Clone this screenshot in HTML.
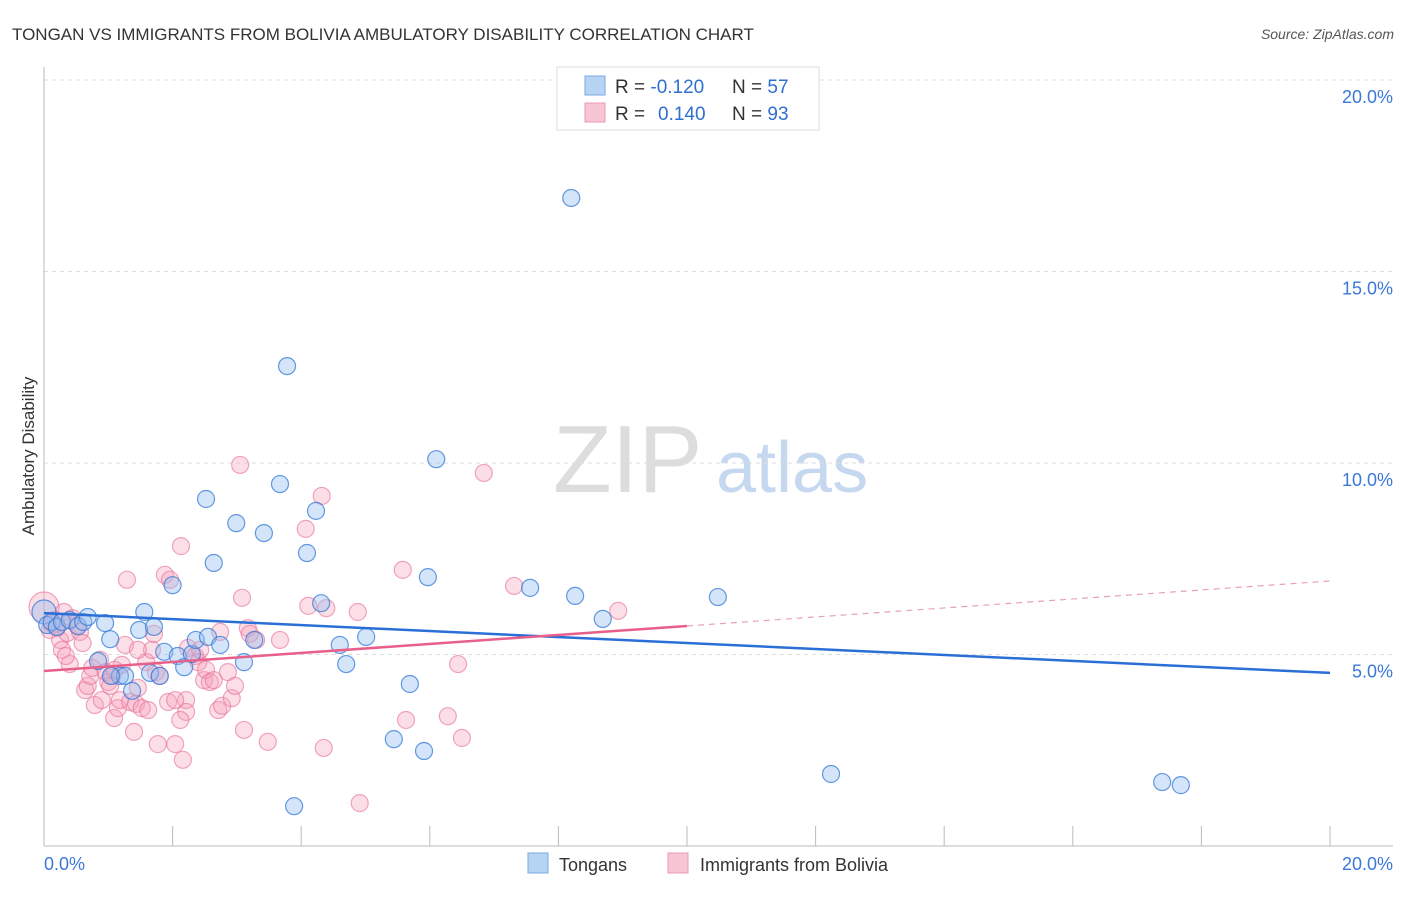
<!DOCTYPE html>
<html><head><meta charset="utf-8"><style>
body{margin:0;background:#fff;font-family:"Liberation Sans",sans-serif}
svg text{font-family:"Liberation Sans",sans-serif}
</style></head><body>
<svg id="chart" width="1406" height="892">
<text x="12" y="40" font-size="17" fill="#333">TONGAN VS IMMIGRANTS FROM BOLIVIA AMBULATORY DISABILITY CORRELATION CHART</text>
<text x="1394" y="39" font-size="14" fill="#555" font-style="italic" text-anchor="end">Source: ZipAtlas.com</text>
<text x="34" y="456" font-size="17" fill="#333" text-anchor="middle" transform="rotate(-90 34 456)">Ambulatory Disability</text>
<g>
<text x="553" y="492" font-size="96" font-family="Liberation Serif,serif" fill="#ddd">ZIP</text>
<text x="716" y="492" font-size="72" fill="#c5d8f0">atlas</text>
</g>
<g id="grid"></g><g id="axes"></g><g id="pts"></g><g id="trends"></g>
<g>
<rect x="557" y="67" width="262" height="63" fill="#fff" stroke="#ddd"/>
<rect x="585" y="76" width="20" height="19" fill="#b8d4f5" stroke="#7aa8e0"/>
<rect x="585" y="103" width="20" height="19" fill="#f8c5d4" stroke="#eb9ab2"/>
<text x="615" y="93" font-size="19" fill="#333">R = <tspan fill="#2f6fd0">-0.120</tspan></text>
<text x="732" y="93" font-size="19" fill="#333">N = <tspan fill="#2f6fd0">57</tspan></text>
<text x="615" y="120" font-size="19" fill="#333">R = <tspan fill="#2f6fd0" x="658">0.140</tspan></text>
<text x="732" y="120" font-size="19" fill="#333">N = <tspan fill="#2f6fd0">93</tspan></text>
</g>
<g>
<rect x="528" y="853" width="20" height="20" fill="#b8d4f5" stroke="#7aa8e0"/>
<text x="559" y="871" font-size="18" fill="#333">Tongans</text>
<rect x="668" y="853" width="20" height="20" fill="#f8c5d4" stroke="#eb9ab2"/>
<text x="700" y="871" font-size="18" fill="#333">Immigrants from Bolivia</text>
</g>
</svg>
<script>
const blueX=[0,.05,.12,.2,.28,.40,.53,.61,.68,.84,.95,1.03,1.18,1.26,1.37,1.48,1.56,1.65,1.71,1.80,1.87,2.0,2.08,2.18,2.30,2.36,2.52,2.55,2.64,2.74,2.99,3.11,3.27,3.42,3.67,3.78,3.89,4.09,4.23,4.31,4.60,4.70,5.01,5.44,5.69,5.91,5.97,6.10,7.56,8.20,8.26,8.69,10.48,12.24,17.39,17.68,1.04];
const blueY=[6.11,5.77,5.85,5.72,5.85,5.90,5.74,5.85,5.98,4.83,5.82,5.40,4.44,4.44,4.05,5.64,6.11,4.52,5.72,4.44,5.07,6.81,4.96,4.67,5.01,5.38,9.06,5.46,7.39,5.25,8.43,4.80,5.38,8.17,9.45,12.53,1.04,7.65,8.75,6.34,5.25,4.75,5.46,2.79,4.23,2.48,7.02,10.10,6.74,16.92,6.53,5.93,6.50,1.88,1.67,1.59,4.44];
const pinkX=[0,.09,.17,.25,.28,.36,.40,.44,.51,.56,.64,.68,.72,.75,.79,.87,.90,.96,1.0,1.03,1.09,1.15,1.18,1.21,1.26,1.29,1.34,1.40,1.43,1.46,1.52,1.59,1.62,1.68,1.71,1.74,1.77,1.80,1.88,1.93,1.96,2.04,2.13,2.16,2.21,2.21,2.24,2.35,2.40,2.49,2.52,2.58,2.64,2.71,2.74,2.77,2.86,2.92,3.05,3.08,3.11,3.17,3.20,3.30,3.48,3.67,4.07,4.11,4.32,4.35,4.39,4.88,4.91,5.58,5.63,6.28,6.44,6.50,6.84,7.31,8.93,.31,.34,1.06,2.12,2.43,2.97,1.46,2.04,.12,.6,.2,1.1];
const pinkY=[6.24,5.64,5.90,5.38,5.12,5.56,4.75,5.95,5.77,5.59,4.07,4.18,4.44,4.65,3.68,4.86,3.81,4.54,4.28,4.18,3.34,3.60,3.81,4.73,5.25,6.95,3.76,2.98,3.71,4.13,3.60,4.80,3.55,5.12,5.54,4.54,2.66,4.44,7.08,3.76,6.95,2.66,7.83,2.25,3.81,3.50,5.17,4.96,4.80,4.33,4.60,4.28,4.33,3.55,5.59,3.66,4.54,3.86,9.95,6.48,3.03,5.69,5.54,5.38,2.72,5.38,8.28,6.27,9.14,2.56,6.21,6.11,1.12,7.21,3.29,3.39,4.75,2.82,9.74,6.79,6.14,6.11,4.96,4.44,3.29,5.12,4.18,5.12,3.81,5.8,5.3,5.7,4.6];
const blueTrend=[6.08,4.52];
const pinkTrend=[4.57,6.92];
const pinkSolidEnd=10;
const yTicks=[5,10,15,20];
const yTickLabels=["5.0%","10.0%","15.0%","20.0%"];
const xTickCount=10;
const X=v=>44+v/20*1286, Y=v=>846-v/20*766;
const NS="http://www.w3.org/2000/svg";
function mk(t,a,p){const e=document.createElementNS(NS,t);for(const k in a)e.setAttribute(k,a[k]);p.appendChild(e);return e;}
const grid=document.getElementById('grid'),axes=document.getElementById('axes'),pts=document.getElementById('pts'),tr=document.getElementById('trends');
yTicks.forEach((v,i)=>{
 const l=mk('line',{x1:44,x2:1393,y1:Y(v),y2:Y(v),stroke:'#ddd','stroke-dasharray':'4,4'},grid);
 
 
 const t=mk('text',{x:1393,y:Y(v)+23,'font-size':18,fill:'#3b78d8','text-anchor':'end'},axes);t.textContent=yTickLabels[i];
 
 
});
const ya=mk('line',{x1:44,x2:44,y1:67,y2:846,stroke:'#bbb'},axes);


const xa=mk('line',{x1:44,x2:1393,y1:846,y2:846,stroke:'#bbb'},axes);


for(let i=0;i<=xTickCount;i++){const x=X(i*20/xTickCount);const t=mk('line',{x1:x,x2:x,y1:826,y2:846,stroke:'#bbb'},axes);
 
 }
const x0=mk('text',{x:44,y:870,'font-size':18,fill:'#3b78d8'},axes);x0.textContent='0.0%';


const x1=mk('text',{x:1393,y:870,'font-size':18,fill:'#3b78d8','text-anchor':'end'},axes);x1.textContent='20.0%';


pinkX.forEach((v,i)=>{const c=mk('circle',{cx:X(v),cy:Y(pinkY[i]),r:i==0?15:8.5,fill:'rgba(245,160,185,0.35)',stroke:'rgba(230,110,150,0.6)','stroke-width':1.2},pts);
 
 });
blueX.forEach((v,i)=>{const c=mk('circle',{cx:X(v),cy:Y(blueY[i]),r:i==0?12:8.5,fill:'rgba(150,190,240,0.4)',stroke:'rgba(50,120,215,0.75)','stroke-width':1.2},pts);
 
 });
const bt=mk('line',{x1:X(0),y1:Y(blueTrend[0]),x2:X(20),y2:Y(blueTrend[1]),stroke:'#2a6fd6','stroke-width':2.5},tr);


const pm=pinkTrend[0]+(pinkTrend[1]-pinkTrend[0])*pinkSolidEnd/20;
const ps=mk('line',{x1:X(0),y1:Y(pinkTrend[0]),x2:X(pinkSolidEnd),y2:Y(pm),stroke:'#e8608a','stroke-width':2.5},tr);


const pd=mk('line',{x1:X(pinkSolidEnd),y1:Y(pm),x2:X(20),y2:Y(pinkTrend[1]),stroke:'#e8a0b8','stroke-width':1.2,'stroke-dasharray':'6,5'},tr);


</script>
</body></html>
